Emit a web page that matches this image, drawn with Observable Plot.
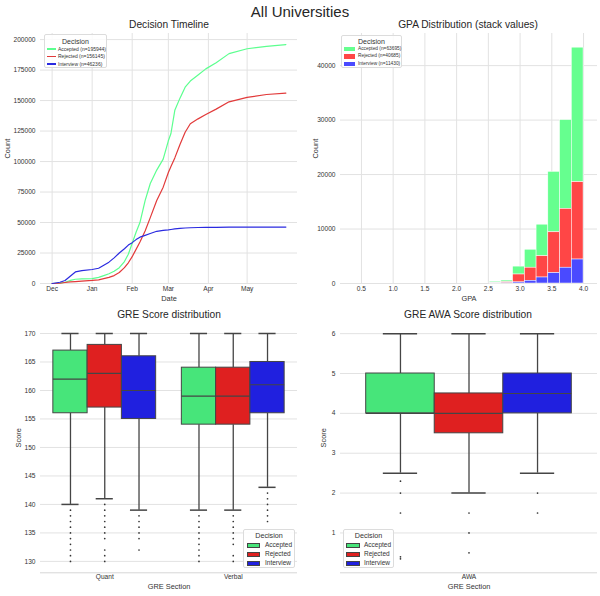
<!DOCTYPE html>
<html><head><meta charset="utf-8">
<script src="https://cdn.jsdelivr.net/npm/d3@7"></script>
<script src="https://cdn.jsdelivr.net/npm/@observablehq/plot@0.6"></script>
<style>
body{margin:0;background:#fff;font-family:"Liberation Sans",Arial,sans-serif;}
#root{position:relative;width:600px;height:596px;overflow:hidden;background:#fff;}
.ttl{position:absolute;text-align:center;color:#262626;white-space:nowrap;}
.legend{position:absolute;background:rgba(255,255,255,0.85);border:1px solid #dcdcdc;border-radius:2px;box-sizing:border-box;color:#333;}
.legend div{position:absolute;white-space:nowrap;}
</style></head><body><div id="root"></div>
<script>
// ---------- data ----------
const decisions = ["Accepted", "Rejected", "Interview"];
const lineColors = ["#5cff8f", "#e23a3a", "#2a2ae0"];
const histColors = ["#66ff8f", "#ff4646", "#4a4aff"];
const boxColors = ["#47e57a", "#df2020", "#2020df"];

// Decision timeline (cumulative counts)
const timelineDates = ["2022-12-01","2022-12-07","2022-12-11","2022-12-15","2022-12-19","2022-12-24","2023-01-01","2023-01-06","2023-01-10","2023-01-14","2023-01-18","2023-01-22","2023-01-26","2023-01-29","2023-02-01","2023-02-04","2023-02-07","2023-02-11","2023-02-15","2023-02-20","2023-02-25","2023-03-01","2023-03-03","2023-03-06","2023-03-10","2023-03-14","2023-03-18","2023-03-24","2023-03-30","2023-04-07","2023-04-17","2023-05-01","2023-05-16","2023-05-31"];
const acceptedCum = [0,300,1000,2500,3500,3800,4000,5000,6500,8000,10000,13000,18000,24000,33000,42000,50000,68000,82000,93000,102000,117000,123000,142000,152000,161000,166000,171000,176000,181000,188500,192500,194500,195944];
const rejectedCum = [0,200,800,1300,1600,2000,2500,3000,4000,5000,6500,9000,13000,17000,22000,28000,34000,43000,54000,68000,79000,91000,96000,103000,114000,124000,131000,135000,138500,143000,149000,152600,155000,156145];
const interviewCum = [0,1000,2500,6000,9500,10500,11500,12500,15000,17500,21000,25000,28500,31500,33500,36000,38000,39500,41000,42800,43500,44000,44300,44800,45200,45500,45700,45900,46000,46100,46150,46200,46220,46236];
const timelineN = [195944, 156145, 46236];
const monthTickDates = ["2022-12-01","2023-01-01","2023-02-01","2023-03-01","2023-04-01","2023-05-01"];
const countTicks = [0,25000,50000,75000,100000,125000,150000,175000,200000];

// GPA distribution (stacked histogram)
const gpaBinEdges = [2.52, 2.705, 2.89, 3.075, 3.26, 3.445, 3.63, 3.815, 4.0];
const gpaAccepted = [250, 300, 1450, 3300, 5800, 11100, 16300, 24700];
const gpaRejected = [60, 200, 1450, 2400, 3900, 7500, 10800, 14200];
const gpaInterview = [10, 40, 200, 500, 1100, 1900, 2900, 4400];
const gpaN = [63695, 40685, 11430];
const gpaTicks = [0.5,1.0,1.5,2.0,2.5,3.0,3.5,4.0];
const gpaCountTicks = [0,10000,20000,30000,40000];

// GRE score boxplots
const greSections = ["Quant", "Verbal"];
const greBoxSection = ["Quant","Quant","Quant","Verbal","Verbal","Verbal"];
const greBoxDecision = ["Accepted","Rejected","Interview","Accepted","Rejected","Interview"];
const greLow = [140,141,139,139,139,143];
const greQ1 = [156,157,155,154,154,156];
const greMedian = [162,163,160,159,159,161];
const greQ3 = [167,168,166,164,164,165];
const greHigh = [170,170,170,170,170,170];
const greOutliers = [
  [139,138,137,136,135,134,133,132,131,130],
  [140,139,138,137,136,135,134,132,131,130],
  [138,137,136,135,134,132],
  [138,137,136,135,134,133,132,131,130],
  [138,137,136,135,134,133,131,130],
  [142,141,140,139,138,137]
];
const greTicks = [130,135,140,145,150,155,160,165,170];

// GRE AWA boxplots
const awaSections = ["AWA"];
const awaLow = [2.5,2,2.5];
const awaQ1 = [4,3.5,4];
const awaMedian = [4,4,4.5];
const awaQ3 = [5,4.5,5];
const awaHigh = [6,6,6];
const awaOutliers = [[2.3,2,1.5,0.4,0.35],[1.5,1,0.5],[2,1.5]];
const awaTicks = [1,2,3,4,5,6];

// ---------- helpers ----------
const root = document.getElementById("root");
const FONT = "'Liberation Sans', Arial, sans-serif";
const baseStyle = {background:"transparent", fontFamily: FONT, fontSize:"6.6px", color:"#333", overflow:"visible"};
const gridStroke = "#e2e2e2";

function place(node, left, top) {
  node.style.position = "absolute";
  node.style.left = left + "px";
  node.style.top = top + "px";
  root.appendChild(node);
}
function title(text, cx, cy, size) {
  const d = document.createElement("div");
  d.className = "ttl";
  d.textContent = text;
  d.style.left = (cx - 200) + "px";
  d.style.width = "400px";
  d.style.fontSize = size + "px";
  d.style.lineHeight = (size * 1.2) + "px";
  d.style.top = (cy - size * 0.6) + "px";
  root.appendChild(d);
}
function legend({left, top, width, height, titleSize, titleY, rowYs, labels, colors, kind, swX, swW, swH, textX, textSize}) {
  const box = document.createElement("div");
  box.className = "legend";
  box.style.left = left + "px"; box.style.top = top + "px";
  box.style.width = width + "px"; box.style.height = height + "px";
  const t = document.createElement("div");
  t.textContent = "Decision";
  t.style.left = "0px"; t.style.width = (width - 2) + "px"; t.style.textAlign = "center";
  t.style.fontSize = titleSize + "px"; t.style.lineHeight = titleSize + "px";
  t.style.top = (titleY - titleSize / 2) + "px";
  box.appendChild(t);
  labels.forEach((lab, i) => {
    const sw = document.createElement("div");
    sw.style.left = swX + "px"; sw.style.width = swW + "px";
    sw.style.height = swH + "px"; sw.style.top = (rowYs[i] - swH / 2) + "px";
    sw.style.background = colors[i];
    if (kind === "box") { sw.style.boxSizing = "border-box"; sw.style.border = "0.6px solid #444"; }
    box.appendChild(sw);
    const tx = document.createElement("div");
    tx.textContent = lab;
    tx.style.left = textX + "px"; tx.style.fontSize = textSize + "px";
    tx.style.lineHeight = textSize + "px"; tx.style.top = (rowYs[i] - textSize / 2) + "px";
    box.appendChild(tx);
  });
  root.appendChild(box);
}

// ---------- titles ----------
title("All Universities", 300, 12, 15);
title("Decision Timeline", 169, 25, 10.2);
title("GPA Distribution (stack values)", 468, 25, 10.2);
title("GRE Score distribution", 169, 315, 10.2);
title("GRE AWA Score distribution", 468, 315, 10.2);

// ---------- panel 1: timeline ----------
const cumByDecision = [acceptedCum, rejectedCum, interviewCum];
const timelineRows = [];
decisions.forEach((dec, k) => timelineDates.forEach((d, i) =>
  timelineRows.push({date: new Date(d), count: cumByDecision[k][i], decision: dec})));
const monthTicks = monthTickDates.map(d => new Date(d));

const p1 = Plot.plot({
  width: 300, height: 280, marginLeft: 40, marginRight: 3, marginTop: 3, marginBottom: 27,
  x: {type: "utc", domain: [new Date("2022-11-22"), new Date("2023-06-09")]},
  y: {domain: [0, 205000]},
  color: {domain: decisions, range: lineColors},
  style: baseStyle,
  marks: [
    Plot.gridX(monthTicks, {stroke: gridStroke, strokeOpacity: 1}),
    Plot.gridY(countTicks, {stroke: gridStroke, strokeOpacity: 1}),
    Plot.line(timelineRows, {x: "date", y: "count", z: "decision", stroke: "decision", strokeWidth: 1.2}),
    Plot.axisX(monthTicks, {tickFormat: d3.utcFormat("%b"), tickSize: 0, tickPadding: 3, label: null}),
    Plot.axisY(countTicks, {tickFormat: d3.format("d"), tickSize: 0, tickPadding: 5, label: null}),
    Plot.text(["Date"], {text: d => d, frameAnchor: "bottom", dy: 17, fontSize: 7.4}),
    Plot.text(["Count"], {text: d => d, frameAnchor: "left", dx: -33, rotate: -90, fontSize: 7.4})
  ]
});
place(p1, 0, 30);

// ---------- panel 2: GPA ----------
const gpaByDecision = [gpaAccepted, gpaRejected, gpaInterview];
const gpaRows = [];
decisions.forEach((dec, k) => gpaByDecision[k].forEach((c, i) =>
  gpaRows.push({x1: gpaBinEdges[i], x2: gpaBinEdges[i + 1], count: c, decision: dec})));

const p2 = Plot.plot({
  width: 300, height: 280, marginLeft: 40, marginRight: 3, marginTop: 3, marginBottom: 27,
  x: {domain: [0.17, 4.22]},
  y: {domain: [0, 45900]},
  color: {domain: decisions, range: histColors},
  style: baseStyle,
  marks: [
    Plot.gridX(gpaTicks, {stroke: gridStroke, strokeOpacity: 1}),
    Plot.gridY(gpaCountTicks, {stroke: gridStroke, strokeOpacity: 1}),
    Plot.rectY(gpaRows, {x1: "x1", x2: "x2", y: "count", fill: "decision",
      order: ["Interview", "Rejected", "Accepted"], stroke: "white", strokeWidth: 0.5}),
    Plot.axisX(gpaTicks, {tickFormat: d3.format(".1f"), tickSize: 0, tickPadding: 3, label: null}),
    Plot.axisY(gpaCountTicks, {tickFormat: d3.format("d"), tickSize: 0, tickPadding: 5, label: null}),
    Plot.text(["GPA"], {text: d => d, frameAnchor: "bottom", dy: 17, fontSize: 7.4}),
    Plot.text(["Count"], {text: d => d, frameAnchor: "left", dx: -25, rotate: -90, fontSize: 7.4})
  ]
});
place(p2, 300, 30);

// ---------- box panels ----------
function boxPanel({sections, rows, outliers, yDomain, yTicks, labelDx}) {
  const w = 0.8 / 3;
  const cx = d => sections.indexOf(d.section) + (decisions.indexOf(d.decision) - 1) * w;
  const whisk = {stroke: "#454545", strokeWidth: 1.3};
  return Plot.plot({
    width: 300, height: 286, marginLeft: 40, marginRight: 3, marginTop: 11.6, marginBottom: 23.7,
    x: {domain: [-0.5, sections.length - 0.5]},
    y: {domain: yDomain},
    color: {domain: decisions, range: boxColors},
    style: baseStyle,
    marks: [
      Plot.gridY(yTicks, {stroke: gridStroke, strokeOpacity: 1}),
      Plot.ruleY([yDomain[0]], {stroke: "#d6d6d6"}),
      Plot.ruleX(rows, {x: cx, y1: "low", y2: "q1", ...whisk}),
      Plot.ruleX(rows, {x: cx, y1: "q3", y2: "high", ...whisk}),
      Plot.ruleY(rows, {y: "low", x1: d => cx(d) - w / 4, x2: d => cx(d) + w / 4, ...whisk, strokeWidth: 1.5}),
      Plot.ruleY(rows, {y: "high", x1: d => cx(d) - w / 4, x2: d => cx(d) + w / 4, ...whisk, strokeWidth: 1.5}),
      Plot.rect(rows, {x1: d => cx(d) - w / 2, x2: d => cx(d) + w / 2, y1: "q1", y2: "q3",
        fill: "decision", stroke: "#454545", strokeWidth: 1}),
      Plot.ruleY(rows, {y: "median", x1: d => cx(d) - w / 2, x2: d => cx(d) + w / 2, stroke: "#454545", strokeWidth: 1.1}),
      Plot.dot(outliers, {x: cx, y: "value", r: 0.85, fill: "#333", stroke: null}),
      Plot.axisY(yTicks, {tickSize: 0, tickPadding: 5, label: null}),
      Plot.axisX(sections.map((s, i) => i), {tickFormat: i => sections[i], tickSize: 0, tickPadding: 2, label: null}),
      Plot.text(["GRE Section"], {text: d => d, frameAnchor: "bottom", dy: 16.3, fontSize: 7.4}),
      Plot.text(["Score"], {text: d => d, frameAnchor: "left", dx: labelDx, rotate: -90, fontSize: 7.4})
    ]
  });
}

const greRows = greBoxSection.map((s, i) => ({section: s, decision: greBoxDecision[i],
  low: greLow[i], q1: greQ1[i], median: greMedian[i], q3: greQ3[i], high: greHigh[i]}));
const greOut = [];
greOutliers.forEach((arr, i) => arr.forEach(v =>
  greOut.push({section: greBoxSection[i], decision: greBoxDecision[i], value: v})));
place(boxPanel({sections: greSections, rows: greRows, outliers: greOut,
  yDomain: [128, 172], yTicks: greTicks, labelDx: -22}), 0, 310);

const awaRows = decisions.map((dec, i) => ({section: "AWA", decision: dec,
  low: awaLow[i], q1: awaQ1[i], median: awaMedian[i], q3: awaQ3[i], high: awaHigh[i]}));
const awaOut = [];
awaOutliers.forEach((arr, i) => arr.forEach(v =>
  awaOut.push({section: "AWA", decision: decisions[i], value: v})));
place(boxPanel({sections: awaSections, rows: awaRows, outliers: awaOut,
  yDomain: [0, 6.29], yTicks: awaTicks, labelDx: -17}), 300, 310);

// ---------- legends ----------
legend({left: 44, top: 34, width: 63, height: 34, titleSize: 7, titleY: 6, rowYs: [14, 21.5, 29],
  labels: decisions.map((d, i) => `${d} (n=${timelineN[i]})`), colors: lineColors, kind: "line",
  swX: 2, swW: 9, swH: 1.3, textX: 13, textSize: 5});
legend({left: 341, top: 35, width: 61, height: 33, titleSize: 7, titleY: 5.5, rowYs: [13, 20.5, 28],
  labels: decisions.map((d, i) => `${d} (n=${gpaN[i]})`), colors: histColors, kind: "patch",
  swX: 2, swW: 11, swH: 4.5, textX: 16, textSize: 4.8});
legend({left: 243, top: 529, width: 52, height: 39, titleSize: 7.2, titleY: 5.5, rowYs: [15.3, 24.3, 33.3],
  labels: decisions, colors: boxColors, kind: "box", swX: 3, swW: 13, swH: 5, textX: 21, textSize: 6.5});
legend({left: 343, top: 529, width: 51, height: 39, titleSize: 7.2, titleY: 5.5, rowYs: [15.3, 24.3, 33.3],
  labels: decisions, colors: boxColors, kind: "box", swX: 2, swW: 13.5, swH: 5, textX: 20, textSize: 6.5});
</script></body></html>
